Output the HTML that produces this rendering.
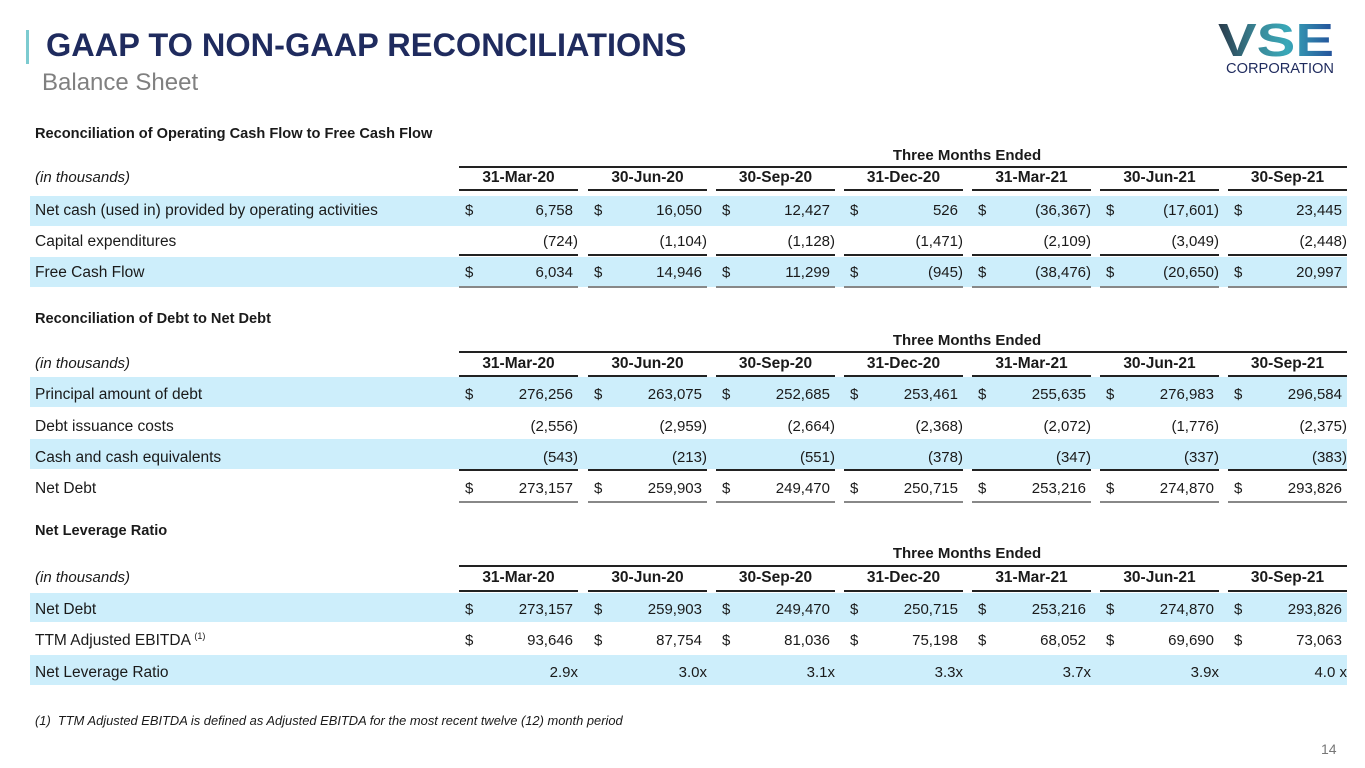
<!DOCTYPE html>
<html><head><meta charset="utf-8">
<style>
*{margin:0;padding:0;box-sizing:border-box}
body{width:1365px;height:768px;background:#fff;position:relative;overflow:hidden;font-family:"Liberation Sans",sans-serif;color:#1a1a1a;font-size:15px}
.a{position:absolute;white-space:nowrap}
.band{position:absolute;left:30px;width:1317px;height:30px;background:#cdeefb}
.t{position:absolute;left:35px;font-weight:bold;font-size:14.6px;line-height:16px}
.lab{position:absolute;left:35px;line-height:30px;height:30px;font-size:15.5px}
.lab sup{font-size:9px;line-height:0;vertical-align:6px}
.v{position:absolute;width:119px;text-align:right;line-height:30px;height:30px}
.v .d{position:absolute;left:6px;top:0}
.v i{visibility:hidden;font-style:normal}
.h{position:absolute;width:119px;text-align:center;font-weight:bold;line-height:20px;font-size:15.5px}
.ul{position:absolute;width:119px;height:2px;background:#222}
.g{background:#888}
.top{position:absolute;left:459px;width:888px;height:1.5px;background:#222}
.tme{position:absolute;left:459px;width:1016px;text-align:center;font-weight:bold;line-height:20px}
.it{position:absolute;left:35px;line-height:20px;font-style:italic;font-size:15px}
</style></head><body>
<div class="a" style="left:26px;top:30px;width:3px;height:34px;background:#7ccbd0"></div>
<div class="a" style="left:46px;top:25px;font-size:32.5px;font-weight:bold;color:#1f2b5e;line-height:40px">GAAP TO NON-GAAP RECONCILIATIONS</div>
<div class="a" style="left:42px;top:68px;font-size:24px;color:#808080;line-height:30px">Balance Sheet</div>
<svg class="a" style="left:1212px;top:14px" width="130" height="64">
<defs><linearGradient id="lg" x1="0" x2="1"><stop offset="0" stop-color="#2a3a4a"/><stop offset="0.35" stop-color="#3a8a9a"/><stop offset="0.6" stop-color="#39a8b8"/><stop offset="1" stop-color="#234f9a"/></linearGradient></defs>
<text x="6" y="42" font-family="Liberation Sans" font-weight="bold" font-size="46" fill="url(#lg)" textLength="116" lengthAdjust="spacingAndGlyphs">VSE</text>
<text x="14" y="59" font-family="Liberation Sans" font-size="15" fill="#1f2b5e" textLength="108" lengthAdjust="spacingAndGlyphs">CORPORATION</text>
</svg>

<!-- Section 1 -->
<div class="t" style="top:126px">Reconciliation of Operating Cash Flow to Free Cash Flow</div>
<div class="tme" style="top:146px">Three Months Ended</div>
<div class="top" style="top:166px"></div>
<div class="it" style="top:168px">(in thousands)</div>
<div class="h" style="left:459px;top:168px">31-Mar-20</div><div class="h" style="left:588px;top:168px">30-Jun-20</div><div class="h" style="left:716px;top:168px">30-Sep-20</div><div class="h" style="left:844px;top:168px">31-Dec-20</div><div class="h" style="left:972px;top:168px">31-Mar-21</div><div class="h" style="left:1100px;top:168px">30-Jun-21</div><div class="h" style="left:1228px;top:168px">30-Sep-21</div>
<div class="ul" style="left:459px;top:189px"></div><div class="ul" style="left:588px;top:189px"></div><div class="ul" style="left:716px;top:189px"></div><div class="ul" style="left:844px;top:189px"></div><div class="ul" style="left:972px;top:189px"></div><div class="ul" style="left:1100px;top:189px"></div><div class="ul" style="left:1228px;top:189px"></div>

<div class="band" style="top:196px"></div>
<div class="lab" style="top:196px">Net cash (used in) provided by operating activities</div>
<div class="v" style="left:459px;top:196px"><span class="d">$</span>6,758<i>)</i></div><div class="v" style="left:588px;top:196px"><span class="d">$</span>16,050<i>)</i></div><div class="v" style="left:716px;top:196px"><span class="d">$</span>12,427<i>)</i></div><div class="v" style="left:844px;top:196px"><span class="d">$</span>526<i>)</i></div><div class="v" style="left:972px;top:196px"><span class="d">$</span>(36,367)</div><div class="v" style="left:1100px;top:196px"><span class="d">$</span>(17,601)</div><div class="v" style="left:1228px;top:196px"><span class="d">$</span>23,445<i>)</i></div>

<div class="lab" style="top:227px">Capital expenditures</div>
<div class="v" style="left:459px;top:227px">(724)</div><div class="v" style="left:588px;top:227px">(1,104)</div><div class="v" style="left:716px;top:227px">(1,128)</div><div class="v" style="left:844px;top:227px">(1,471)</div><div class="v" style="left:972px;top:227px">(2,109)</div><div class="v" style="left:1100px;top:227px">(3,049)</div><div class="v" style="left:1228px;top:227px">(2,448)</div>
<div class="ul" style="left:459px;top:254px"></div><div class="ul" style="left:588px;top:254px"></div><div class="ul" style="left:716px;top:254px"></div><div class="ul" style="left:844px;top:254px"></div><div class="ul" style="left:972px;top:254px"></div><div class="ul" style="left:1100px;top:254px"></div><div class="ul" style="left:1228px;top:254px"></div>

<div class="band" style="top:257px"></div>
<div class="lab" style="top:258px">Free Cash Flow</div>
<div class="v" style="left:459px;top:258px"><span class="d">$</span>6,034<i>)</i></div><div class="v" style="left:588px;top:258px"><span class="d">$</span>14,946<i>)</i></div><div class="v" style="left:716px;top:258px"><span class="d">$</span>11,299<i>)</i></div><div class="v" style="left:844px;top:258px"><span class="d">$</span>(945)</div><div class="v" style="left:972px;top:258px"><span class="d">$</span>(38,476)</div><div class="v" style="left:1100px;top:258px"><span class="d">$</span>(20,650)</div><div class="v" style="left:1228px;top:258px"><span class="d">$</span>20,997<i>)</i></div>
<div class="ul g" style="left:459px;top:286px"></div><div class="ul g" style="left:588px;top:286px"></div><div class="ul g" style="left:716px;top:286px"></div><div class="ul g" style="left:844px;top:286px"></div><div class="ul g" style="left:972px;top:286px"></div><div class="ul g" style="left:1100px;top:286px"></div><div class="ul g" style="left:1228px;top:286px"></div>

<!-- Section 2 -->
<div class="t" style="top:311px">Reconciliation of Debt to Net Debt</div>
<div class="tme" style="top:331px">Three Months Ended</div>
<div class="top" style="top:351px"></div>
<div class="it" style="top:354px">(in thousands)</div>
<div class="h" style="left:459px;top:354px">31-Mar-20</div><div class="h" style="left:588px;top:354px">30-Jun-20</div><div class="h" style="left:716px;top:354px">30-Sep-20</div><div class="h" style="left:844px;top:354px">31-Dec-20</div><div class="h" style="left:972px;top:354px">31-Mar-21</div><div class="h" style="left:1100px;top:354px">30-Jun-21</div><div class="h" style="left:1228px;top:354px">30-Sep-21</div>
<div class="ul" style="left:459px;top:375px"></div><div class="ul" style="left:588px;top:375px"></div><div class="ul" style="left:716px;top:375px"></div><div class="ul" style="left:844px;top:375px"></div><div class="ul" style="left:972px;top:375px"></div><div class="ul" style="left:1100px;top:375px"></div><div class="ul" style="left:1228px;top:375px"></div>

<div class="band" style="top:377px"></div>
<div class="lab" style="top:380px">Principal amount of debt</div>
<div class="v" style="left:459px;top:380px"><span class="d">$</span>276,256<i>)</i></div><div class="v" style="left:588px;top:380px"><span class="d">$</span>263,075<i>)</i></div><div class="v" style="left:716px;top:380px"><span class="d">$</span>252,685<i>)</i></div><div class="v" style="left:844px;top:380px"><span class="d">$</span>253,461<i>)</i></div><div class="v" style="left:972px;top:380px"><span class="d">$</span>255,635<i>)</i></div><div class="v" style="left:1100px;top:380px"><span class="d">$</span>276,983<i>)</i></div><div class="v" style="left:1228px;top:380px"><span class="d">$</span>296,584<i>)</i></div>

<div class="lab" style="top:412px">Debt issuance costs</div>
<div class="v" style="left:459px;top:412px">(2,556)</div><div class="v" style="left:588px;top:412px">(2,959)</div><div class="v" style="left:716px;top:412px">(2,664)</div><div class="v" style="left:844px;top:412px">(2,368)</div><div class="v" style="left:972px;top:412px">(2,072)</div><div class="v" style="left:1100px;top:412px">(1,776)</div><div class="v" style="left:1228px;top:412px">(2,375)</div>

<div class="band" style="top:439px"></div>
<div class="lab" style="top:443px">Cash and cash equivalents</div>
<div class="v" style="left:459px;top:443px">(543)</div><div class="v" style="left:588px;top:443px">(213)</div><div class="v" style="left:716px;top:443px">(551)</div><div class="v" style="left:844px;top:443px">(378)</div><div class="v" style="left:972px;top:443px">(347)</div><div class="v" style="left:1100px;top:443px">(337)</div><div class="v" style="left:1228px;top:443px">(383)</div>
<div class="ul" style="left:459px;top:469px"></div><div class="ul" style="left:588px;top:469px"></div><div class="ul" style="left:716px;top:469px"></div><div class="ul" style="left:844px;top:469px"></div><div class="ul" style="left:972px;top:469px"></div><div class="ul" style="left:1100px;top:469px"></div><div class="ul" style="left:1228px;top:469px"></div>

<div class="lab" style="top:474px">Net Debt</div>
<div class="v" style="left:459px;top:474px"><span class="d">$</span>273,157<i>)</i></div><div class="v" style="left:588px;top:474px"><span class="d">$</span>259,903<i>)</i></div><div class="v" style="left:716px;top:474px"><span class="d">$</span>249,470<i>)</i></div><div class="v" style="left:844px;top:474px"><span class="d">$</span>250,715<i>)</i></div><div class="v" style="left:972px;top:474px"><span class="d">$</span>253,216<i>)</i></div><div class="v" style="left:1100px;top:474px"><span class="d">$</span>274,870<i>)</i></div><div class="v" style="left:1228px;top:474px"><span class="d">$</span>293,826<i>)</i></div>
<div class="ul g" style="left:459px;top:501px"></div><div class="ul g" style="left:588px;top:501px"></div><div class="ul g" style="left:716px;top:501px"></div><div class="ul g" style="left:844px;top:501px"></div><div class="ul g" style="left:972px;top:501px"></div><div class="ul g" style="left:1100px;top:501px"></div><div class="ul g" style="left:1228px;top:501px"></div>

<!-- Section 3 -->
<div class="t" style="top:523px">Net Leverage Ratio</div>
<div class="tme" style="top:544px">Three Months Ended</div>
<div class="top" style="top:565px"></div>
<div class="it" style="top:568px">(in thousands)</div>
<div class="h" style="left:459px;top:568px">31-Mar-20</div><div class="h" style="left:588px;top:568px">30-Jun-20</div><div class="h" style="left:716px;top:568px">30-Sep-20</div><div class="h" style="left:844px;top:568px">31-Dec-20</div><div class="h" style="left:972px;top:568px">31-Mar-21</div><div class="h" style="left:1100px;top:568px">30-Jun-21</div><div class="h" style="left:1228px;top:568px">30-Sep-21</div>
<div class="ul" style="left:459px;top:590px"></div><div class="ul" style="left:588px;top:590px"></div><div class="ul" style="left:716px;top:590px"></div><div class="ul" style="left:844px;top:590px"></div><div class="ul" style="left:972px;top:590px"></div><div class="ul" style="left:1100px;top:590px"></div><div class="ul" style="left:1228px;top:590px"></div>

<div class="band" style="top:593px;height:29px"></div>
<div class="lab" style="top:595px">Net Debt</div>
<div class="v" style="left:459px;top:595px"><span class="d">$</span>273,157<i>)</i></div><div class="v" style="left:588px;top:595px"><span class="d">$</span>259,903<i>)</i></div><div class="v" style="left:716px;top:595px"><span class="d">$</span>249,470<i>)</i></div><div class="v" style="left:844px;top:595px"><span class="d">$</span>250,715<i>)</i></div><div class="v" style="left:972px;top:595px"><span class="d">$</span>253,216<i>)</i></div><div class="v" style="left:1100px;top:595px"><span class="d">$</span>274,870<i>)</i></div><div class="v" style="left:1228px;top:595px"><span class="d">$</span>293,826<i>)</i></div>

<div class="lab" style="top:626px">TTM Adjusted EBITDA <sup>(1)</sup></div>
<div class="v" style="left:459px;top:626px"><span class="d">$</span>93,646<i>)</i></div><div class="v" style="left:588px;top:626px"><span class="d">$</span>87,754<i>)</i></div><div class="v" style="left:716px;top:626px"><span class="d">$</span>81,036<i>)</i></div><div class="v" style="left:844px;top:626px"><span class="d">$</span>75,198<i>)</i></div><div class="v" style="left:972px;top:626px"><span class="d">$</span>68,052<i>)</i></div><div class="v" style="left:1100px;top:626px"><span class="d">$</span>69,690<i>)</i></div><div class="v" style="left:1228px;top:626px"><span class="d">$</span>73,063<i>)</i></div>

<div class="band" style="top:655px;height:30px"></div>
<div class="lab" style="top:658px">Net Leverage Ratio</div>
<div class="v" style="left:459px;top:658px">2.9x</div><div class="v" style="left:588px;top:658px">3.0x</div><div class="v" style="left:716px;top:658px">3.1x</div><div class="v" style="left:844px;top:658px">3.3x</div><div class="v" style="left:972px;top:658px">3.7x</div><div class="v" style="left:1100px;top:658px">3.9x</div><div class="v" style="left:1228px;top:658px">4.0 x</div>

<div class="a" style="left:35px;top:713px;font-size:12.9px;font-style:italic;line-height:16px">(1)&nbsp; TTM Adjusted EBITDA is defined as Adjusted EBITDA for the most recent twelve (12) month period</div>
<div class="a" style="left:1321px;top:740px;font-size:14px;color:#777;line-height:18px">14</div>
</body></html>
